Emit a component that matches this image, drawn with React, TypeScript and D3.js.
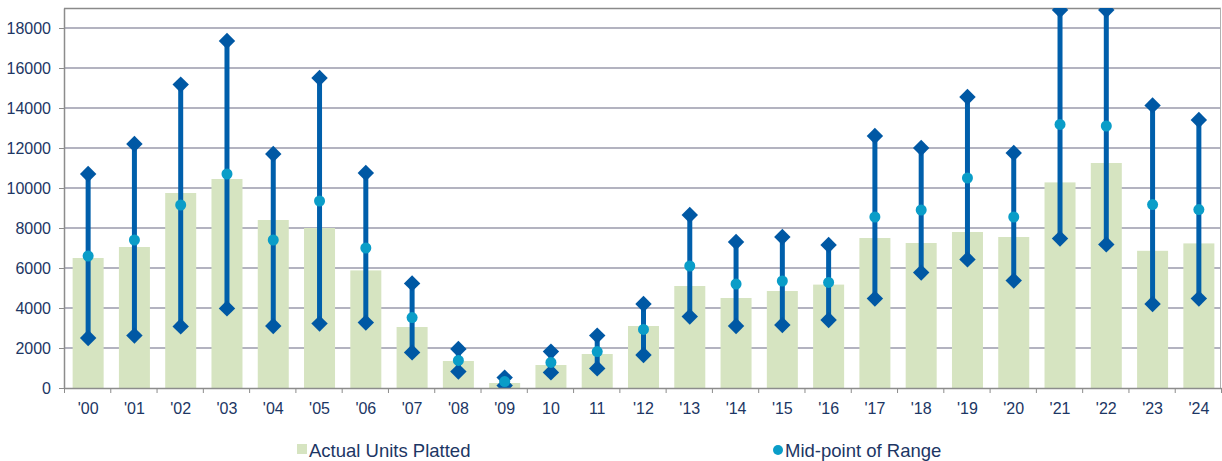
import { useEffect, useRef } from 'react';
import * as d3 from 'd3';

// ── Data ──────────────────────────────────────────────────────────────────────
const YEARS = ["'00", "'01", "'02", "'03", "'04", "'05", "'06", "'07", "'08", "'09", '10', '11', "'12",
  "'13", "'14", "'15", "'16", "'17", "'18", "'19", "'20", "'21", "'22", "'23", "'24"];

const ACTUAL = [6500, 7050, 9750, 10450, 8400, 8000, 5880, 3050, 1350, 250, 1150, 1700, 3100,
  5100, 4500, 4850, 5170, 7500, 7250, 7800, 7550, 10280, 11250, 6860, 7230];

const RANGE_HIGH = [10700, 12200, 15170, 17350, 11700, 15500, 10750, 5230, 1950, 520, 1820, 2620, 4200,
  8650, 7300, 7550, 7150, 12600, 12000, 14550, 11750, 18900, 18900, 14130, 13400];

const RANGE_LOW = [2500, 2620, 3080, 3980, 3100, 3220, 3270, 1780, 820, 120, 780, 980, 1650,
  3570, 3100, 3150, 3400, 4470, 5770, 6430, 5370, 7470, 7180, 4200, 4470];

const MIDPOINT = [6600, 7400, 9150, 10700, 7400, 9350, 7000, 3520, 1380, 320, 1280, 1820, 2930,
  6100, 5200, 5350, 5280, 8550, 8900, 10500, 8550, 13180, 13100, 9170, 8920];

const Y_TICKS = [0, 2000, 4000, 6000, 8000, 10000, 12000, 14000, 16000, 18000];

const BAR_COLOR = '#d6e4c1';
const LINE_COLOR = '#005fab';
const DIAMOND_COLOR = '#0058a4';
const MID_COLOR = '#0a9dc8';
const TEXT_COLOR = '#1c3664';
const GRID_COLOR = '#9a9aab';
const FONT = 'Liberation Sans, Arial, sans-serif';

const W = 1222, H = 461;
const margin = { top: 8, right: 1, bottom: 73, left: 64 };

export default function App() {
  const svgRef = useRef<SVGSVGElement>(null);

  useEffect(() => {
    const svg = d3.select(svgRef.current);
    svg.selectAll('*').remove();

    const innerW = W - margin.left - margin.right;
    const innerH = H - margin.top - margin.bottom;

    const x = d3.scaleBand().domain(YEARS).range([0, innerW]).paddingInner(0.33).paddingOuter(0.165);
    const xEdges = d3.scaleLinear().domain([0, YEARS.length]).range([0, innerW]);
    const y = d3.scaleLinear().domain([0, 19000]).range([innerH, 0]);

    const defs = svg.append('defs');
    defs.append('clipPath').attr('id', 'plotClip')
      .append('rect').attr('x', 0).attr('y', 0).attr('width', innerW).attr('height', innerH);

    const g = svg.append('g').attr('transform', `translate(${margin.left},${margin.top})`);

    // Grid
    g.selectAll('line.hgrid').data(Y_TICKS.filter(d => d > 0)).enter().append('line')
      .attr('x1', 0).attr('x2', innerW)
      .attr('y1', d => y(d)).attr('y2', d => y(d))
      .style('stroke', GRID_COLOR).attr('stroke-width', 1.3);

    // plot border (top / right)
    g.append('line').attr('x1', 0).attr('x2', innerW).attr('y1', 0.5).attr('y2', 0.5)
      .style('stroke', '#8a8a8a').attr('stroke-width', 1.5);
    g.append('line').attr('x1', innerW - 0.5).attr('x2', innerW - 0.5).attr('y1', 0).attr('y2', innerH)
      .style('stroke', '#b0b0b0').attr('stroke-width', 1);

    // Bars
    g.selectAll('rect.bar').data(ACTUAL).enter().append('rect')
      .attr('x', (_, i) => x(YEARS[i])! + 1)
      .attr('y', d => y(d))
      .attr('width', x.bandwidth())
      .attr('height', d => innerH - y(d))
      .attr('fill', BAR_COLOR);

    const plot = g.append('g').attr('clip-path', 'url(#plotClip)');
    const cx = (i: number) => x(YEARS[i])! + x.bandwidth() / 2 + 1;

    // Range lines
    plot.selectAll('line.range').data(YEARS).enter().append('line')
      .attr('x1', (_, i) => cx(i)).attr('x2', (_, i) => cx(i))
      .attr('y1', (_, i) => y(RANGE_HIGH[i])).attr('y2', (_, i) => y(RANGE_LOW[i]))
      .style('stroke', LINE_COLOR).attr('stroke-width', 5);

    const diamond = d3.symbol().type(d3.symbolSquare).size(135);
    const drawDiamonds = (vals: number[]) => {
      plot.selectAll(null).data(vals).enter().append('path')
        .attr('d', diamond()!)
        .attr('transform', (d, i) => `translate(${cx(i)},${y(d)}) rotate(45)`)
        .attr('fill', DIAMOND_COLOR);
    };
    drawDiamonds(RANGE_HIGH);
    drawDiamonds(RANGE_LOW);

    // Mid-points
    plot.selectAll('circle.mid').data(MIDPOINT).enter().append('circle')
      .attr('cx', (_, i) => cx(i)).attr('cy', d => y(d)).attr('r', 5.5)
      .attr('fill', MID_COLOR);

    // Axes
    g.append('g').attr('transform', `translate(0,${innerH})`)
      .call(d3.axisBottom(xEdges).tickValues(d3.range(YEARS.length + 1)).tickFormat(() => '').tickSize(5).tickSizeOuter(0))
      .call(ax => ax.select('.domain').style('stroke', '#8c8c8c').attr('stroke-width', 1.5))
      .call(ax => ax.selectAll('line').style('stroke', '#8c8c8c'));

    g.selectAll('text.xlab').data(YEARS).enter().append('text')
      .attr('x', d => x(d)! + x.bandwidth() / 2 + 1).attr('y', innerH + 26)
      .style('text-anchor', 'middle').style('font-size', '16px').style('font-family', FONT)
      .style('fill', TEXT_COLOR).text(d => d);

    g.append('g')
      .call(d3.axisLeft(y).tickValues(Y_TICKS).tickFormat(d => `${d}`).tickSize(5).tickSizeOuter(0).tickPadding(8))
      .call(ax => ax.select('.domain').style('stroke', '#8c8c8c').attr('stroke-width', 1.5))
      .call(ax => ax.selectAll('line').style('stroke', '#8c8c8c'))
      .call(ax => ax.selectAll('text').style('fill', TEXT_COLOR).style('font-size', '16px').style('font-family', FONT));

    // Legend
    const lg = svg.append('g');
    lg.append('rect').attr('x', 297).attr('y', 444).attr('width', 10).attr('height', 10).attr('fill', BAR_COLOR);
    lg.append('text').attr('x', 309).attr('y', 457)
      .style('font-size', '18.5px').style('font-family', FONT).style('fill', TEXT_COLOR)
      .text('Actual Units Platted');
    lg.append('circle').attr('cx', 778).attr('cy', 450).attr('r', 5).attr('fill', MID_COLOR);
    lg.append('text').attr('x', 785).attr('y', 457)
      .style('font-size', '18.5px').style('font-family', FONT).style('fill', TEXT_COLOR)
      .text('Mid-point of Range');
  }, []);

  return (
    <svg ref={svgRef} width={W} height={H}
      style={{ position: 'absolute', left: 0, top: 0, display: 'block', background: '#fff' }} />
  );
}
